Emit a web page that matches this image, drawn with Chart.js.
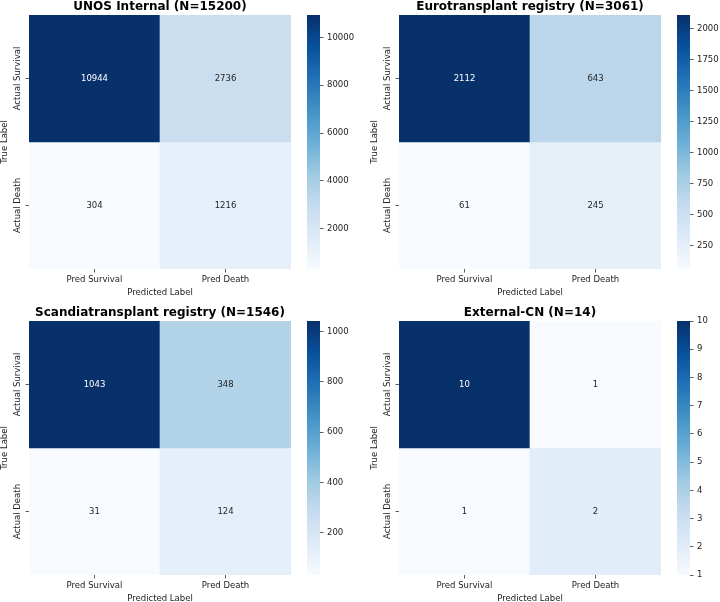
<!DOCTYPE html>
<html><head><meta charset="utf-8">
<script src="https://cdn.jsdelivr.net/npm/chart.js@4"></script>
<style>
html,body{margin:0;padding:0;background:#fff;width:720px;height:602px;overflow:hidden;position:relative;}
canvas{position:absolute;}
</style></head><body>
<script>
// ---- data ----
const titles = ["UNOS Internal (N=15200)", "Eurotransplant registry (N=3061)", "Scandiatransplant registry (N=1546)", "External-CN (N=14)"];
const predLabels = ["Pred Survival", "Pred Death"];
const trueLabels = ["Actual Survival", "Actual Death"];
const xAxisTitle = "Predicted Label";
const yAxisTitle = "True Label";
const unosValues = [[10944, 2736], [304, 1216]];
const euroValues = [[2112, 643], [61, 245]];
const scandiaValues = [[1043, 348], [31, 124]];
const cnValues = [[10, 1], [1, 2]];
const unosTicks = [2000, 4000, 6000, 8000, 10000];
const euroTicks = [250, 500, 750, 1000, 1250, 1500, 1750, 2000];
const scandiaTicks = [200, 400, 600, 800, 1000];
const cnTicks = [1, 2, 3, 4, 5, 6, 7, 8, 9, 10];

const panels = [
  {title: titles[0], values: unosValues, ticks: unosTicks},
  {title: titles[1], values: euroValues, ticks: euroTicks},
  {title: titles[2], values: scandiaValues, ticks: scandiaTicks},
  {title: titles[3], values: cnValues, ticks: cnTicks}
];
const offsets = [[0, 0], [370, 0], [0, 306], [370, 306]];

// ---- style ----
const FONT = "'DejaVu Sans', sans-serif";
const TEXT = '#222222';
Chart.defaults.font.family = FONT;
Chart.defaults.font.size = 8.5;
Chart.defaults.color = TEXT;

const BLUES = ['#f7fbff','#deebf7','#c6dbef','#9ecae1','#6baed6','#4292c6','#2171b5','#08519c','#08306b'];
function hexToRgb(h){return [parseInt(h.slice(1,3),16),parseInt(h.slice(3,5),16),parseInt(h.slice(5,7),16)];}
function blues(t){
  t = Math.max(0, Math.min(1, t));
  const s = t * 8, i = Math.min(7, Math.floor(s)), f = s - i;
  const a = hexToRgb(BLUES[i]), b = hexToRgb(BLUES[i+1]);
  return a.map((v,k) => v + (b[k]-v)*f);
}
function rgbStr(c){return 'rgb(' + c.map(Math.round).join(',') + ')';}
function lum(c){
  const l = c.map(v => { v /= 255; return v <= 0.03928 ? v/12.92 : Math.pow((v+0.055)/1.055, 2.4); });
  return 0.2126*l[0] + 0.7152*l[1] + 0.0722*l[2];
}

function makeCanvas(left, top, w, h){
  const c = document.createElement('canvas');
  c.width = w; c.height = h;
  c.style.left = left + 'px'; c.style.top = top + 'px';
  c.style.width = w + 'px'; c.style.height = h + 'px';
  document.body.appendChild(c);
  return c;
}

const mctx = document.createElement('canvas').getContext('2d');
mctx.font = "normal 8.5px " + FONT;
const widest = Math.max(...trueLabels.map(t => mctx.measureText(t).width));
const yPad = 29 - 18 - 3.5 - widest / 2;

function makeCellPlugin(values, vmin, vmax){
  return {
    id: 'cellText',
    afterDatasetsDraw(chart){
      const ctx = chart.ctx;
      ctx.save();
      ctx.font = "normal 8.5px " + FONT;
      ctx.textAlign = 'center';
      ctx.textBaseline = 'middle';
      chart.data.datasets.forEach((ds, di) => {
        const meta = chart.getDatasetMeta(di);
        meta.data.forEach((bar, ci) => {
          const v = values[di][ci];
          const col = blues((v - vmin) / (vmax - vmin));
          ctx.fillStyle = lum(col) > 0.408 ? '#262626' : '#ffffff';
          const p = bar.getProps(['x','y','base'], true);
          ctx.fillText(String(v), p.x, (p.y + p.base) / 2);
        });
      });
      ctx.restore();
    }
  };
}

const tickGrid = {drawOnChartArea:false, drawTicks:true, tickLength:3.5, tickColor:'#333333', tickWidth:0.8};

panels.forEach((p, idx) => {
  const [ox, oy] = offsets[idx];
  const flat = p.values.flat();
  const vmin = Math.min(...flat), vmax = Math.max(...flat);

  const hc = makeCanvas(ox, oy, 300, 300);
  new Chart(hc, {
    type: 'bar',
    data: {
      labels: predLabels,
      datasets: p.values.map((row, r) => ({
        data: row.map(() => [r, r + 1]),
        backgroundColor: row.map(v => rgbStr(blues((v - vmin) / (vmax - vmin)))),
        borderWidth: 0, barPercentage: 1, categoryPercentage: 1, grouped: false
      }))
    },
    options: {
      responsive: false, animation: false, devicePixelRatio: 1,
      layout: {padding: {left: 0, right: 9, top: 0, bottom: 0}},
      plugins: {
        legend: {display: false}, tooltip: {enabled: false},
        title: {display: true, text: p.title, fullSize: false, color: '#000000',
                font: {size: 12, weight: 'bold'}, padding: {top: 0, bottom: 0.6}}
      },
      scales: {
        x: {
          type: 'category',
          grid: Object.assign({offset: false}, tickGrid),
          border: {display: false},
          ticks: {padding: 2, autoSkip: false, maxRotation: 0, color: TEXT},
          title: {display: true, text: xAxisTitle, color: TEXT, padding: {top: 0, bottom: 2.3}},
          afterFit(a){ a.height = 31; }
        },
        y: {
          type: 'linear', min: 0, max: 2, reverse: true,
          afterBuildTicks(a){ a.ticks = [{value: 0.5}, {value: 1.5}]; },
          grid: tickGrid,
          border: {display: false},
          ticks: {callback: (v, i) => trueLabels[i], minRotation: 90, maxRotation: 90,
                  crossAlign: 'center', padding: yPad, autoSkip: false, color: TEXT},
          title: {display: true, text: yAxisTitle, color: TEXT, padding: {top: 0, bottom: 0}},
          afterFit(a){ a.width = 29; }
        }
      }
    },
    plugins: [makeCellPlugin(p.values, vmin, vmax)]
  });

  const cb = makeCanvas(ox + 300, oy, 60, 300);
  new Chart(cb, {
    type: 'bar',
    data: {
      labels: [''],
      datasets: [{
        data: [[vmin, vmax]],
        backgroundColor: (ctx) => {
          const a = ctx.chart.chartArea;
          if (!a) return BLUES[4];
          const g = ctx.chart.ctx.createLinearGradient(0, a.bottom, 0, a.top);
          BLUES.forEach((c, i) => g.addColorStop(i / 8, c));
          return g;
        },
        borderWidth: 0, barPercentage: 1, categoryPercentage: 1
      }]
    },
    options: {
      responsive: false, animation: false, devicePixelRatio: 1,
      layout: {padding: {left: 7, right: 0, top: 15, bottom: 31}},
      plugins: {legend: {display: false}, tooltip: {enabled: false}},
      scales: {
        x: {display: false},
        y: {
          type: 'linear', position: 'right', min: vmin, max: vmax,
          afterBuildTicks(a){ a.ticks = p.ticks.map(v => ({value: v})); },
          grid: tickGrid,
          border: {display: false},
          ticks: {padding: 3.5, autoSkip: false, color: TEXT, callback: v => String(v)},
          afterFit(a){ a.width = 40; }
        }
      }
    }
  });
});
</script>
</body></html>
